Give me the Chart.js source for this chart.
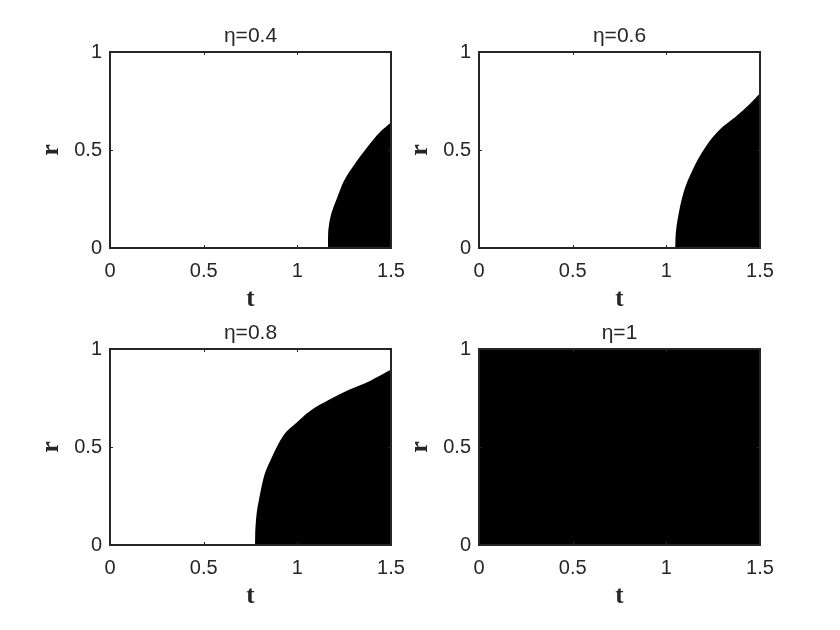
<!DOCTYPE html>
<html><head><meta charset="utf-8">
<script src="https://cdn.jsdelivr.net/npm/chart.js@4.4.1/dist/chart.umd.min.js"></script>
<style>
html,body{margin:0;padding:0;background:#fff;}
body{width:840px;height:630px;position:relative;overflow:hidden;}
canvas{position:absolute;}
</style></head><body>
<canvas id="c0" width="420" height="315" style="left:0px;top:0px"></canvas>
<canvas id="c1" width="420" height="315" style="left:369px;top:0px"></canvas>
<canvas id="c2" width="420" height="315" style="left:0px;top:297px"></canvas>
<canvas id="c3" width="420" height="315" style="left:369px;top:297px"></canvas>
<script>
// ---- data ----
const tTicks = [0, 0.5, 1, 1.5];
const rTicks = [0, 0.5, 1];
const etaTitles = ['η=0.4', 'η=0.6', 'η=0.8', 'η=1'];
const xLabel = 't';
const yLabel = 'r';
// boundary of the black region (r below curve, t right of start)
const t04 = [1.163, 1.164, 1.168, 1.175, 1.19, 1.21, 1.245, 1.30, 1.37, 1.44, 1.5];
const r04 = [0, 0.06, 0.11, 0.15, 0.20, 0.25, 0.335, 0.42, 0.51, 0.59, 0.64];
const t06 = [1.047, 1.048, 1.052, 1.06, 1.086, 1.14, 1.21, 1.28, 1.37, 1.44, 1.5];
const r06 = [0, 0.04, 0.09, 0.144, 0.263, 0.398, 0.517, 0.60, 0.67, 0.73, 0.79];
const t08 = [0.774, 0.775, 0.778, 0.784, 0.795, 0.818, 0.863, 0.924, 0.995, 1.066, 1.172, 1.279, 1.385, 1.5];
const r08 = [0, 0.05, 0.11, 0.17, 0.23, 0.336, 0.445, 0.556, 0.624, 0.683, 0.742, 0.793, 0.836, 0.895];
const t10 = [0, 1.5];
const r10 = [1, 1];

const AX = '#262626';
const SANS = '"Liberation Sans", Arial, Helvetica, sans-serif';
const SERIF = '"Liberation Serif", "Times New Roman", serif';

const innerTicks = {
  id: 'innerTicks',
  afterDraw(chart) {
    const {ctx, chartArea: a, scales: {x, y}} = chart;
    ctx.save();
    ctx.strokeStyle = AX;
    ctx.lineWidth = 1;
    ctx.beginPath();
    x.ticks.forEach(t => {
      const px = Math.round(x.getPixelForValue(t.value)) + 0.5;
      ctx.moveTo(px, a.bottom); ctx.lineTo(px, a.bottom - 3);
      ctx.moveTo(px, a.top); ctx.lineTo(px, a.top + 3);
    });
    y.ticks.forEach(t => {
      const py = Math.round(y.getPixelForValue(t.value)) + 0.5;
      ctx.moveTo(a.left, py); ctx.lineTo(a.left + 3, py);
      ctx.moveTo(a.right, py); ctx.lineTo(a.right - 3, py);
    });
    ctx.stroke();
    ctx.restore();
  }
};

const fmt = v => String(Math.round(v * 10) / 10);

function makeChart(id, title, ts, rs) {
  const pts = ts.map((t, i) => ({x: t, y: rs[i]}));
  const border = {display: true, color: AX, width: 2, z: 1};
  new Chart(document.getElementById(id), {
    type: 'line',
    data: {datasets: [{
      data: pts, xAxisID: 'x', yAxisID: 'y',
      fill: 'origin', backgroundColor: '#000', borderColor: '#000',
      borderWidth: 0, pointRadius: 0, cubicInterpolationMode: 'monotone'
    }]},
    options: {
      responsive: false, animation: false, devicePixelRatio: 1,
      layout: {padding: 0},
      plugins: {legend: {display: false}, tooltip: {enabled: false}, title: {display: false}},
      scales: {
        x: {
          type: 'linear', position: 'bottom', min: 0, max: 1.5,
          afterBuildTicks: s => { s.ticks = tTicks.map(v => ({value: v})); },
          afterFit: s => { s.height = 67; },
          grid: {display: false, drawTicks: false},
          border: border,
          ticks: {color: AX, padding: 11, maxRotation: 0, autoSkip: false, callback: fmt,
                  font: {family: SANS, size: 20}},
          title: {display: true, text: xLabel, color: AX, padding: {top: 0, bottom: 0},
                  font: {family: SERIF, size: 25, weight: 'bold'}}
        },
        x2: {
          type: 'linear', position: 'top', min: 0, max: 1.5,
          afterFit: s => { s.height = 52; },
          grid: {display: false, drawTicks: false},
          border: border,
          ticks: {display: false},
          title: {display: true, text: title, color: AX, padding: {top: 24, bottom: 0},
                  font: {family: SANS, size: 21}}
        },
        y: {
          type: 'linear', position: 'left', min: 0, max: 1,
          afterBuildTicks: s => { s.ticks = rTicks.map(v => ({value: v})); },
          afterFit: s => { s.width = 110; },
          grid: {display: false, drawTicks: false},
          border: border,
          ticks: {color: AX, padding: 8, callback: fmt, font: {family: SANS, size: 20}},
          title: {display: true, text: yLabel, color: AX, padding: {top: 36, bottom: 0},
                  font: {family: SERIF, size: 26, weight: 'bold'}}
        },
        y2: {
          type: 'linear', position: 'right', min: 0, max: 1,
          afterFit: s => { s.width = 29; },
          grid: {display: false, drawTicks: false},
          border: border,
          ticks: {display: false}
        }
      }
    },
    plugins: [innerTicks]
  });
}

makeChart('c0', etaTitles[0], t04, r04);
makeChart('c1', etaTitles[1], t06, r06);
makeChart('c2', etaTitles[2], t08, r08);
makeChart('c3', etaTitles[3], t10, r10);
</script>
</body></html>
